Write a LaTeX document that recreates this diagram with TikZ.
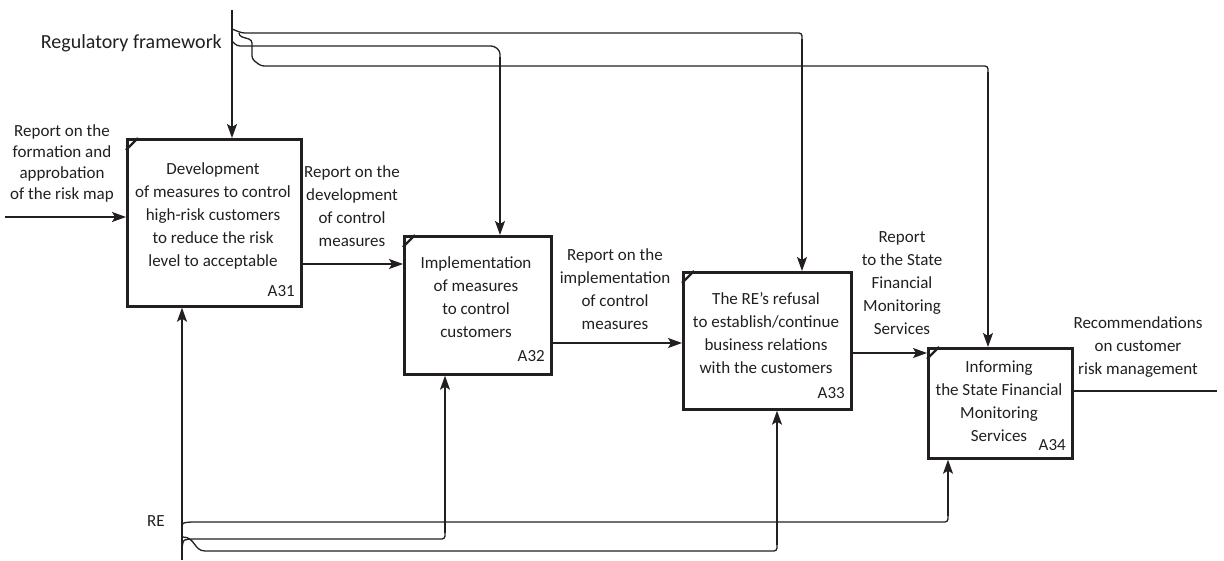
\documentclass[tikz,border=0pt]{standalone}
\usepackage{fontspec}
\setmainfont{Carlito}
\usetikzlibrary{arrows.meta,calc}
\definecolor{ink}{HTML}{231F20}
\begin{document}
\begin{tikzpicture}[x=1pt,y=-1pt,
  proc/.style={draw=ink, line width=2.7pt, anchor=north west, inner sep=0pt},
  lbl/.style={align=center, font=\fontsize{17}{23}\selectfont, text=ink, inner sep=0pt},
  conn/.style={draw=ink, line width=1.3pt, -{Stealth[length=14pt,width=10pt,inset=3pt]}},
  wire/.style={draw=ink, line width=1.3pt, rounded corners=3pt},
  tick/.style={draw=ink, line width=2.3pt}
]
\useasboundingbox (0,0) rectangle (1224,560);

% boxes
\node[proc, minimum width=174pt, minimum height=167pt] (A31) at (126,138) {};
\node[proc, minimum width=147pt, minimum height=138pt] (A32) at (403,235) {};
\node[proc, minimum width=168pt, minimum height=137pt] (A33) at (682,271) {};
\node[proc, minimum width=144pt, minimum height=110pt] (A34) at (927,347) {};
\foreach \b in {A31,A32,A33,A34}{
  \draw[tick] ([yshift=-12pt]\b.north west) -- ([xshift=12pt]\b.north west);
}

% box texts
\node[lbl] (t31) at (213,216) {Development\\of measures to control\\high-risk customers\\to reduce the risk\\level to acceptable};
\node[lbl, anchor=east] (n31) at (295,291) {A31};
\node[lbl] (t32) at (476,297) {Implementation\\of measures\\to control\\customers};
\node[lbl, anchor=east] (n32) at (545,356) {A32};
\node[lbl] (t33) at (766,333) {The RE’s refusal\\to establish/continue\\business relations\\with the customers};
\node[lbl, anchor=east] (n33) at (845,393) {A33};
\node[lbl] (t34) at (999,401) {Informing\\the State Financial\\Monitoring\\Services};
\node[lbl, anchor=east] (n34) at (1066,445) {A34};

% coordinates
\coordinate (in) at (5,217);
\coordinate (y12) at (0,264);
\coordinate (y23) at (0,343);
\coordinate (y34) at (0,353);
\coordinate (yout) at (0,391);
\coordinate (outend) at (1217,391);
\coordinate (regtop) at (232,10);
\coordinate (reg33a) at (232,29);
\coordinate (reg33b) at (242,33);
\coordinate (reg33c) at (802,33);
\coordinate (reg33s) at (802,40);
\coordinate (reg32a) at (232,41);
\coordinate (reg32b) at (237,46);
\coordinate (reg32c) at (494,46);
\coordinate (reg32d) at (500,51);
\coordinate (reg32s) at (500,58);
\coordinate (reg34a) at (239,33);
\coordinate (reg34b) at (239,36);
\coordinate (reg34c) at (252,40);
\coordinate (reg34d) at (252,59);
\coordinate (reg34e) at (261,66);
\coordinate (reg34f) at (988,66);
\coordinate (reg34s) at (988,73);
\coordinate (rebot) at (182,560);
\coordinate (reU) at (948,522);
\coordinate (reUs) at (948,515);
\coordinate (reM) at (445,539);
\coordinate (reMs) at (445,532);
\coordinate (reL) at (777,551);
\coordinate (reLs) at (777,544);

% inputs / outputs between boxes
\draw[conn] (in) -- (A31.west |- in);
\draw[conn] (A31.east |- y12) -- (A32.west |- y12);
\draw[conn] (A32.east |- y23) -- (A33.west |- y23);
\draw[conn] (A33.east |- y34) -- (A34.west |- y34);
\draw[wire] (A34.east |- yout) -- (outend);

% regulatory framework (controls)
\draw[conn] (regtop) -- (regtop |- A31.north);
\draw[wire] (reg33a) -- (reg33b) -- (reg33c) -- (reg33s);
\draw[conn] ([yshift=1pt]reg33s) -- (reg33s |- A33.north);
\draw[wire] (reg32a) -- (reg32b) -- (reg32c) -- (reg32d) -- (reg32s);
\draw[conn] ([yshift=1pt]reg32s) -- (reg32s |- A32.north);
\draw[wire] (reg34a) -- (reg34b) -- (reg34c) -- (reg34d) -- (reg34e) -- (reg34f) -- (reg34s);
\draw[conn] ([yshift=1pt]reg34s) -- (reg34s |- A34.north);

% RE (mechanisms)
\draw[conn] (rebot) -- (rebot |- A31.south);
\draw[wire] (182,531) .. controls (182,523) .. (190,522) -- (reU) -- (reUs);
\draw[conn] ([yshift=-1pt]reUs) -- (reUs |- A34.south);
\draw[wire] (182,549) .. controls (183,540) .. (191,539) -- (reM) -- (reMs);
\draw[conn] ([yshift=-1pt]reMs) -- (reMs |- A32.south);
\draw[wire] (183,537) .. controls (195,537) and (194,551) .. (208,551) -- (reL) -- (reLs);
\draw[conn] ([yshift=-1pt]reLs) -- (reLs |- A33.south);

% labels
\node[lbl, font=\fontsize{17}{21}\selectfont] (lin) at (62,163) {Report on the\\formation and\\approbation\\of the risk map};
\node[lbl, anchor=east, font=\fontsize{20}{24}\selectfont] (lreg) at (222,43) {Regulatory framework};
\node[lbl] (l12) at (352,206) {Report on the\\development\\of control\\measures};
\node[lbl] (l23) at (615,289) {Report on the\\implementation\\of control\\measures};
\node[lbl] (l34) at (902,283) {Report\\to the State\\Financial\\Monitoring\\Services};
\node[lbl] (lout) at (1138,347) {Recommendations\\on customer\\risk management};
\node[lbl] (lre) at (156,521) {RE};
\end{tikzpicture}
\end{document}
